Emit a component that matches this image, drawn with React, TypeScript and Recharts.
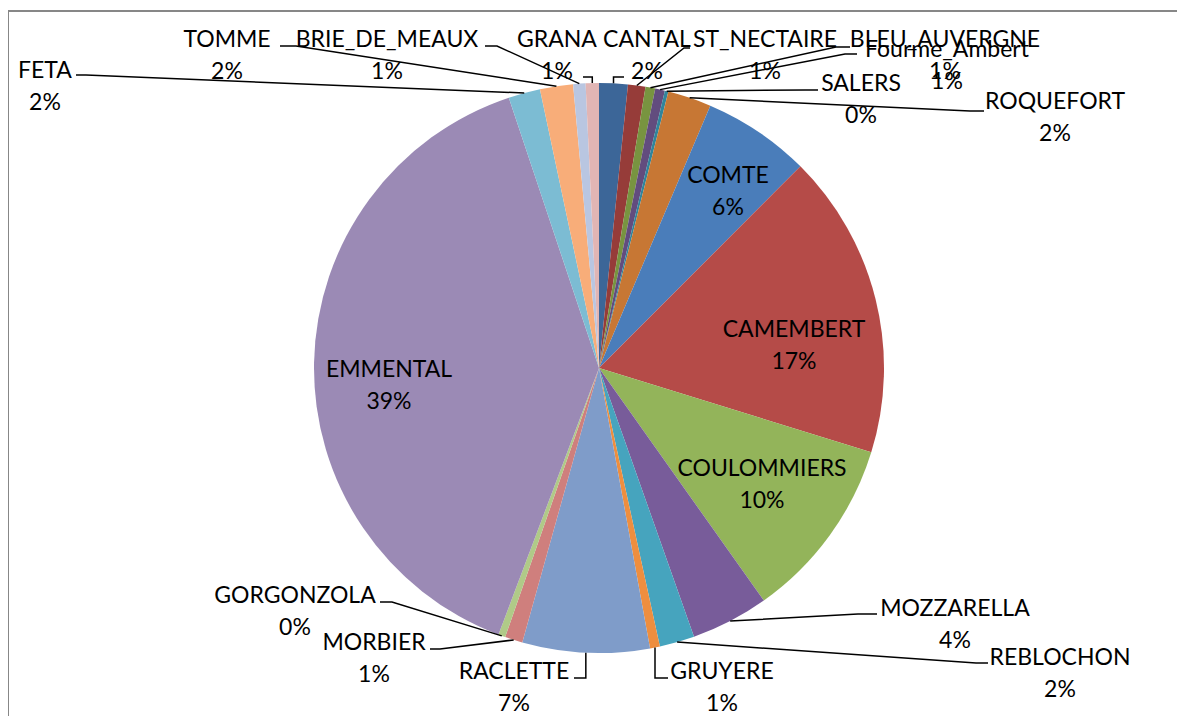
import { PieChart, Pie, Cell } from "recharts";

// cheese share, clockwise from 12 o'clock
const CHEESES = [
  "CANTAL",
  "ST_NECTAIRE",
  "BLEU_AUVERGNE",
  "Fourme_Ambert",
  "SALERS",
  "ROQUEFORT",
  "COMTE",
  "CAMEMBERT",
  "COULOMMIERS",
  "MOZZARELLA",
  "REBLOCHON",
  "GRUYERE",
  "RACLETTE",
  "MORBIER",
  "GORGONZOLA",
  "EMMENTAL",
  "FETA",
  "TOMME",
  "BRIE_DE_MEAUX",
  "GRANA",
];
const SHARES = [
  1.62, 0.99, 0.55, 0.55, 0.2, 2.47, 6.1, 17.27, 10.4, 4.4, 1.98, 0.56, 7.2,
  1.0, 0.4, 39.1, 1.8, 1.87, 0.7, 0.75,
];
const COLORS = [
  "#3c6698", "#963c39", "#789440", "#624c7e", "#31859c", "#c77734",
  "#4a7dba", "#b54b48", "#93b45a", "#785c9a", "#46a4be", "#ee8e3f",
  "#7f9cc9", "#cf7f7d", "#b0ca88", "#9b8ab5", "#7cbcd3", "#f8ad79",
  "#b9c6e1", "#e1b5b4",
];

// label placement (name line centre) and leader routing
type Lead =
  | { v: number; to: number }
  | { h: number; bx: number; ax: number };
type LabelPos = { x: number; y: number; lead?: Lead };
const LABEL_POS: LabelPos[] = [
  { x: 647, y: 38, lead: { v: 77, to: 624 } },
  { x: 765, y: 38, lead: { h: 48, bx: 684, ax: 690 } },
  { x: 945, y: 38, lead: { h: 47, bx: 836, ax: 850 } },
  { x: 947, y: 48, lead: { h: 54, bx: 845, ax: 857 } },
  { x: 861, y: 82, lead: { h: 90, bx: 805, ax: 818 } },
  { x: 1055, y: 100, lead: { h: 111, bx: 970, ax: 984 } },
  { x: 728, y: 174 },
  { x: 794, y: 328 },
  { x: 762, y: 467 },
  { x: 955, y: 607, lead: { h: 614, bx: 858, ax: 877 } },
  { x: 1060, y: 656, lead: { h: 663, bx: 976, ax: 988 } },
  { x: 722, y: 670, lead: { v: 678, to: 668 } },
  { x: 514, y: 670, lead: { v: 678, to: 574 } },
  { x: 374, y: 641, lead: { h: 649, bx: 440, ax: 430 } },
  { x: 295, y: 594, lead: { h: 602, bx: 392, ax: 380 } },
  { x: 389, y: 368 },
  { x: 45, y: 69, lead: { h: 75, bx: 86, ax: 76 } },
  { x: 227, y: 38, lead: { h: 46, bx: 296, ax: 280 } },
  { x: 387, y: 38, lead: { h: 46, bx: 497, ax: 485 } },
  { x: 557, y: 38, lead: { v: 77, to: 583 } },
];

const data = CHEESES.map((name, i) => ({ name, value: SHARES[i] }));
const RAD = Math.PI / 180;
const FONT = "Lato, 'Liberation Sans', sans-serif";

function renderLabel(props: any) {
  const { cx, cy, midAngle, outerRadius, index, percent, name } = props;
  const pos = LABEL_POS[index];
  const ex = cx + outerRadius * Math.cos(-midAngle * RAD);
  const ey = cy + outerRadius * Math.sin(-midAngle * RAD);
  let d = "";
  if (pos.lead) {
    if ("v" in pos.lead) {
      d = `M${ex},${ey}L${ex},${pos.lead.v}L${pos.lead.to},${pos.lead.v}`;
    } else {
      d = `M${ex},${ey}L${pos.lead.bx},${pos.lead.h}L${pos.lead.ax},${pos.lead.h}`;
    }
  }
  return (
    <g key={`lbl-${index}`}>
      {d && <path d={d} stroke="#000" strokeWidth={1.5} fill="none" />}
      <text
        x={pos.x}
        y={pos.y}
        textAnchor="middle"
        dominantBaseline="central"
        fontSize={23}
        fontFamily={FONT}
        fill="#000"
      >
        {name}
      </text>
      <text
        x={pos.x}
        y={pos.y + 32}
        textAnchor="middle"
        dominantBaseline="central"
        fontSize={23}
        fontFamily={FONT}
        fill="#000"
      >
        {`${Math.round(percent * 100)}%`}
      </text>
    </g>
  );
}

export default function App() {
  return (
    <div
      style={{
        position: "relative",
        width: 1185,
        height: 724,
        margin: -8,
        overflow: "hidden",
        background: "#fff",
      }}
    >
      <div
        style={{
          position: "absolute",
          left: 7,
          top: 10,
          width: 1300,
          height: 900,
          borderLeft: "2px solid #878787",
          borderTop: "2px solid #878787",
        }}
      />
      <div style={{ position: "absolute", left: 0, top: 0 }}>
        <PieChart
          width={1185}
          height={724}
          margin={{ top: 0, right: 0, bottom: 0, left: 0 }}
        >
          <Pie
            data={data}
            dataKey="value"
            nameKey="name"
            cx={599}
            cy={368}
            outerRadius={285}
            startAngle={90}
            endAngle={-270}
            stroke="none"
            label={renderLabel}
            labelLine={false}
            isAnimationActive={false}
          >
            {data.map((d, i) => (
              <Cell key={d.name} fill={COLORS[i]} />
            ))}
          </Pie>
        </PieChart>
      </div>
    </div>
  );
}
